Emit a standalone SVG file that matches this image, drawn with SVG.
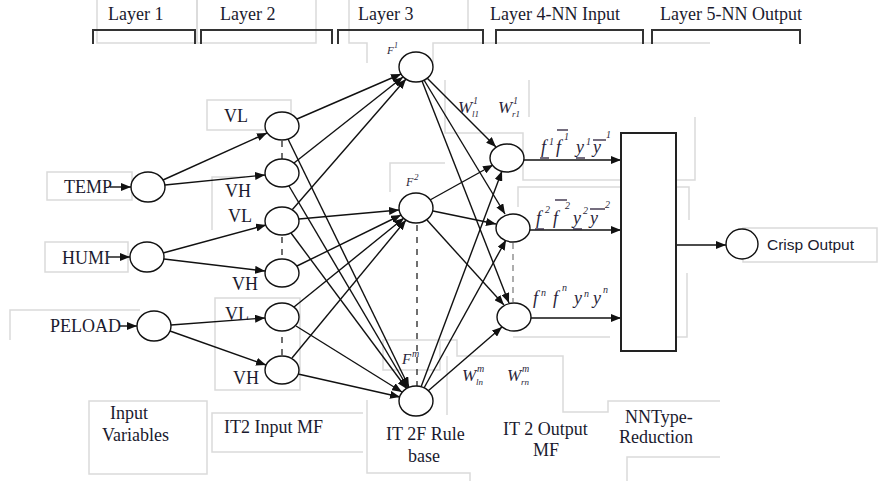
<svg xmlns="http://www.w3.org/2000/svg" width="885" height="481" viewBox="0 0 885 481">
  <defs>
    <marker id="arrow" markerUnits="userSpaceOnUse" markerWidth="11" markerHeight="8" refX="10" refY="4" orient="auto">
      <path d="M0,0 L10,4 L0,8 z" fill="#111"/>
    </marker>
  </defs>
  <style>
    .frame { fill: none; stroke: #dadada; stroke-width: 1.5; }
    .bracket { fill: none; stroke: #333; stroke-width: 2; }
    .edge { fill: none; stroke: #111; stroke-width: 1.4; marker-end: url(#arrow); }
    .dash { fill: none; stroke: #333; stroke-width: 1.4; stroke-dasharray: 6 6; }
    .dashlight { fill: none; stroke: #999; stroke-width: 1.6; stroke-dasharray: 6 5; }
    .node { fill: #fff; stroke: #111; stroke-width: 1.4; }
    .lbl { font-family: "Liberation Serif", serif; font-size: 18px; fill: #1a1a2e; }
    .math { font-family: "Liberation Serif", serif; font-style: italic; fill: #2a1f3a; }
    .bar { stroke: #2a1f3a; stroke-width: 1.3; }
  </style>

  <!-- light text-box frames -->
  <g id="frames">
    <rect class="frame" x="97" y="-2" width="100" height="45"/>
    <rect class="frame" x="197" y="-2" width="119" height="45"/>
    <path class="frame" d="M349,0 V43 H367 V63"/>
    <path class="frame" d="M468,0 V30"/>
    <path class="frame" d="M433,63 V43 H710"/>
    <rect class="frame" x="47" y="172" width="85" height="28"/>
    <rect class="frame" x="45" y="242" width="83" height="30"/>
    <path class="frame" d="M10,340 V310 H140"/>
    <rect class="frame" x="207" y="100" width="84" height="30"/>
    <path class="frame" d="M245,177 H212 V230"/>
    <rect class="frame" x="215" y="298" width="85" height="92"/>
    <path class="frame" d="M390,192 V163 H445"/>
    <rect class="frame" x="383" y="340" width="57" height="30"/>
    <path class="frame" d="M440,340 H457 V356 H563 V412 H608 V401 H720"/>
    <path class="frame" d="M447,356 V415"/>
    <path class="frame" d="M367,400 V473 H470 V481"/>
    <path class="frame" d="M627,481 V457 H720"/>
    <path class="frame" d="M445,80 V133 H523 V180 H620"/>
    <path class="frame" d="M529,80 V117"/>
    <path class="frame" d="M518,207 V187 H620"/>
    <path class="frame" d="M513,337 H610"/>
    <path class="frame" d="M695,117 V180 H676"/>
    <path class="frame" d="M676,187 H689 V220"/>
    <path class="frame" d="M687,273 V337 H676"/>
    <rect class="frame" x="743" y="228" width="134" height="34"/>
    <rect class="frame" x="89" y="401" width="118" height="73"/>
    <path class="frame" d="M363,413 H212 V452 H363"/>
  </g>

  <!-- layer brackets -->
  <g id="brackets">
    <path class="bracket" d="M93,44 V30 H195 V44"/>
    <path class="bracket" d="M201,44 V30 H332 V44"/>
    <path class="bracket" d="M338,44 V30 H483 V44"/>
    <path class="bracket" d="M496,44 V30 H643 V44"/>
    <path class="bracket" d="M652,44 V30 H800 V44"/>
  </g>

  <!-- connectors -->
  <g id="connectors">
    <!-- variable labels into input nodes -->
    <line class="edge" x1="110" y1="187" x2="131" y2="187"/>
    <line class="edge" x1="108" y1="257" x2="130" y2="257"/>
    <line class="edge" x1="120" y1="326" x2="137" y2="326"/>
    <!-- input nodes to membership nodes -->
    <line class="edge" x1="163" y1="180" x2="267" y2="133"/>
    <line class="edge" x1="165" y1="185" x2="265" y2="175"/>
    <line class="edge" x1="163" y1="253" x2="266" y2="225"/>
    <line class="edge" x1="164" y1="259" x2="265" y2="271"/>
    <line class="edge" x1="171" y1="325" x2="265" y2="318"/>
    <line class="edge" x1="170" y1="331" x2="266" y2="365"/>
    <!-- membership nodes to rule nodes -->
    <line class="edge" x1="297" y1="119" x2="401" y2="74"/>
    <line class="edge" x1="294" y1="163" x2="403" y2="77"/>
    <line class="edge" x1="292" y1="210" x2="406" y2="79"/>
    <line class="edge" x1="299" y1="219" x2="399" y2="210"/>
    <line class="edge" x1="297" y1="266" x2="401" y2="215"/>
    <line class="edge" x1="294" y1="307" x2="404" y2="218"/>
    <line class="edge" x1="292" y1="358" x2="406" y2="220"/>
    <line class="edge" x1="288" y1="139" x2="409" y2="387"/>
    <line class="edge" x1="289" y1="186" x2="408" y2="388"/>
    <line class="edge" x1="291" y1="233" x2="407" y2="389"/>
    <line class="edge" x1="296" y1="326" x2="402" y2="392"/>
    <line class="edge" x1="298" y1="374" x2="400" y2="397"/>
    <!-- rule nodes to output-MF nodes -->
    <line class="edge" x1="427" y1="78" x2="496" y2="147"/>
    <line class="edge" x1="424" y1="80" x2="505" y2="214"/>
    <line class="edge" x1="422" y1="81" x2="509" y2="303"/>
    <line class="edge" x1="430" y1="200" x2="493" y2="165"/>
    <line class="edge" x1="433" y1="211" x2="496" y2="224"/>
    <line class="edge" x1="427" y1="220" x2="504" y2="305"/>
    <line class="edge" x1="421" y1="387" x2="502" y2="171"/>
    <line class="edge" x1="424" y1="388" x2="506" y2="240"/>
    <line class="edge" x1="428" y1="391" x2="502" y2="327"/>
    <!-- output-MF nodes to type reduction -->
    <line class="edge" x1="524" y1="160" x2="621" y2="160"/>
    <line class="edge" x1="530" y1="230" x2="621" y2="230"/>
    <line class="edge" x1="531" y1="318" x2="621" y2="318"/>
    <!-- type reduction to crisp output -->
    <line class="edge" x1="676" y1="245" x2="726" y2="245"/>
    <!-- continuation marks -->
    <line class="dash" x1="282" y1="141" x2="282" y2="159"/>
    <line class="dash" x1="282" y1="237" x2="282" y2="258"/>
    <line class="dash" x1="282" y1="337" x2="282" y2="355"/>
    <line class="dash" x1="417" y1="225" x2="417" y2="386"/>
    <line class="dashlight" x1="513" y1="243" x2="513" y2="302"/>
  </g>

  <!-- nodes -->
  <g id="in-temp"><ellipse class="node" cx="148" cy="187" rx="17" ry="15"/><text class="lbl" x="64" y="193">TEMP</text></g>
  <g id="in-humi"><ellipse class="node" cx="147" cy="257" rx="17" ry="15"/><text class="lbl" x="62" y="264">HUMI</text></g>
  <g id="in-peload"><ellipse class="node" cx="154" cy="326" rx="17" ry="15"/><text class="lbl" x="50" y="332">PELOAD</text></g>

  <g id="mf-vl1"><ellipse class="node" cx="282" cy="126" rx="17" ry="14"/><text class="lbl" x="224" y="122">VL</text></g>
  <g id="mf-vh1"><ellipse class="node" cx="282" cy="173" rx="17" ry="14"/><text class="lbl" x="225" y="197">VH</text></g>
  <g id="mf-vl2"><ellipse class="node" cx="282" cy="221" rx="17" ry="14"/><text class="lbl" x="228" y="222">VL</text></g>
  <g id="mf-vh2"><ellipse class="node" cx="282" cy="273" rx="17" ry="14"/><text class="lbl" x="232" y="290">VH</text></g>
  <g id="mf-vl3"><ellipse class="node" cx="282" cy="317" rx="17" ry="14"/><text class="lbl" x="225" y="320">VL</text></g>
  <g id="mf-vh3"><ellipse class="node" cx="282" cy="370" rx="17" ry="14"/><text class="lbl" x="233" y="384">VH</text></g>

  <g id="rule-1">
    <ellipse class="node" cx="416" cy="67" rx="17" ry="15"/>
    <text class="math" x="387" y="54" font-size="11">F</text><text class="math" x="394" y="48" font-size="8">1</text>
  </g>
  <g id="rule-2">
    <ellipse class="node" cx="416" cy="208" rx="17" ry="15"/>
    <text class="math" x="406" y="186" font-size="12">F</text><text class="math" x="414" y="180" font-size="9">2</text>
  </g>
  <g id="rule-m">
    <ellipse class="node" cx="416" cy="401" rx="17" ry="15"/>
    <text class="math" x="402" y="364" font-size="15">F</text><text class="math" x="412" y="357" font-size="10">m</text>
  </g>

  <g id="out-1">
    <ellipse class="node" cx="507" cy="158" rx="17" ry="14"/>
    <text class="math" x="541" y="153" font-size="18">f</text>
    <line class="bar" x1="540" y1="158" x2="549" y2="158"/>
    <text class="math" x="549" y="145" font-size="10">1</text>
    <text class="math" x="556" y="153" font-size="18">f</text>
    <line class="bar" x1="557" y1="130" x2="568" y2="130"/>
    <text class="math" x="564" y="140" font-size="10">1</text>
    <text class="math" x="576" y="153" font-size="18">y</text>
    <line class="bar" x1="576" y1="158" x2="585" y2="158"/>
    <text class="math" x="586" y="145" font-size="10">1</text>
    <text class="math" x="593" y="153" font-size="18">y</text>
    <line class="bar" x1="593" y1="140" x2="606" y2="140"/>
    <text class="math" x="606" y="138" font-size="10">1</text>
  </g>
  <g id="out-2">
    <ellipse class="node" cx="513" cy="228" rx="17" ry="14"/>
    <text class="math" x="536" y="224" font-size="18">f</text>
    <line class="bar" x1="535" y1="229" x2="544" y2="229"/>
    <text class="math" x="545" y="213" font-size="10">2</text>
    <text class="math" x="553" y="224" font-size="18">f</text>
    <line class="bar" x1="555" y1="200" x2="567" y2="200"/>
    <text class="math" x="565" y="209" font-size="10">2</text>
    <text class="math" x="573" y="224" font-size="18">y</text>
    <line class="bar" x1="573" y1="229" x2="582" y2="229"/>
    <text class="math" x="583" y="214" font-size="10">2</text>
    <text class="math" x="590" y="224" font-size="18">y</text>
    <line class="bar" x1="590" y1="209" x2="605" y2="209"/>
    <text class="math" x="605" y="208" font-size="10">2</text>
  </g>
  <g id="out-n">
    <ellipse class="node" cx="514" cy="317" rx="17" ry="14"/>
    <text class="math" x="533" y="304" font-size="18">f</text>
    <text class="math" x="541" y="296" font-size="10">n</text>
    <text class="math" x="553" y="304" font-size="18">f</text>
    <text class="math" x="562" y="291" font-size="10">n</text>
    <text class="math" x="574" y="304" font-size="18">y</text>
    <text class="math" x="584" y="297" font-size="10">n</text>
    <text class="math" x="593" y="304" font-size="18">y</text>
    <text class="math" x="603" y="293" font-size="10">n</text>
  </g>

  <g id="type-reduction"><rect x="621" y="133" width="55" height="218" fill="#fff" stroke="#222" stroke-width="2"/></g>

  <g id="crisp-output">
    <ellipse class="node" cx="742" cy="244" rx="16" ry="15"/>
    <text x="767" y="250" font-family="Liberation Sans, sans-serif" font-size="15.5" fill="#1a1a2e">Crisp Output</text>
  </g>

  <!-- weight labels -->
  <g id="weights">
    <text class="math" x="458" y="113" font-size="17">W</text>
    <text class="math" x="473" y="104" font-size="10">1</text>
    <text class="math" x="472" y="117" font-size="9">l1</text>
    <text class="math" x="498" y="113" font-size="17">W</text>
    <text class="math" x="513" y="104" font-size="10">1</text>
    <text class="math" x="512" y="117" font-size="9">r1</text>
    <text class="math" x="462" y="381" font-size="17">W</text>
    <text class="math" x="477" y="372" font-size="10">m</text>
    <text class="math" x="476" y="385" font-size="9">ln</text>
    <text class="math" x="507" y="381" font-size="17">W</text>
    <text class="math" x="522" y="372" font-size="10">m</text>
    <text class="math" x="521" y="385" font-size="9">rn</text>
  </g>

  <!-- layer titles -->
  <g id="titles">
    <text class="lbl" x="108" y="20">Layer 1</text>
    <text class="lbl" x="220" y="20">Layer 2</text>
    <text class="lbl" x="358" y="20">Layer 3</text>
    <text class="lbl" x="490" y="20">Layer 4-NN Input</text>
    <text class="lbl" x="660" y="20">Layer 5-NN Output</text>
  </g>

  <!-- stage captions -->
  <g id="captions">
    <text class="lbl" x="110" y="419">Input</text>
    <text class="lbl" x="102" y="441">Variables</text>
    <text class="lbl" x="224" y="433">IT2 Input MF</text>
    <text class="lbl" x="386" y="440">IT 2F Rule</text>
    <text class="lbl" x="408" y="462">base</text>
    <text class="lbl" x="503" y="435">IT 2 Output</text>
    <text class="lbl" x="533" y="456">MF</text>
    <text class="lbl" x="625" y="423">NNType-</text>
    <text class="lbl" x="619" y="443">Reduction</text>
  </g>
</svg>
